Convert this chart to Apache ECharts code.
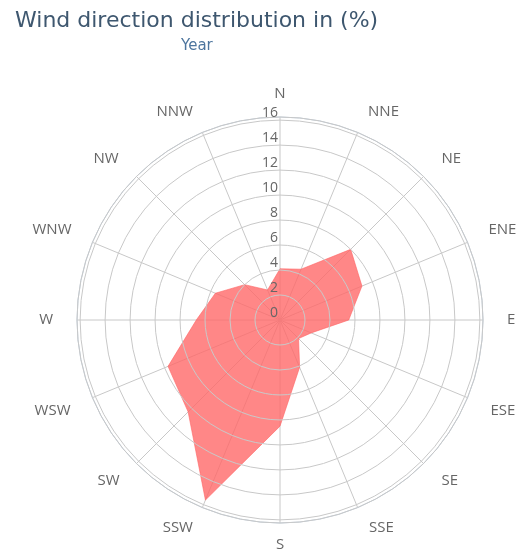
<!DOCTYPE html>
<html>
<head>
<meta charset="utf-8">
<title>Wind direction distribution</title>
<script src="https://cdn.jsdelivr.net/npm/echarts@6/dist/echarts.min.js"></script>
<style>
  html, body { margin: 0; padding: 0; background: #fff; }
  #chart { width: 517px; height: 553px; }
</style>
</head>
<body>
<div id="chart"></div>
<script>
// wind directions, clockwise from north
var directions = ['N', 'NNE', 'NE', 'ENE', 'E', 'ESE', 'SE', 'SSE',
                  'S', 'SSW', 'SW', 'WSW', 'W', 'WNW', 'NW', 'NNW'];
// frequency in % for each direction (year)
var yearValues = [4.1, 4.4, 8.0, 7.1, 5.5, 2.7, 2.1, 4.1,
                  8.5, 15.6, 10.4, 9.7, 6.7, 5.6, 4.0, 2.6];
// radius tick labels
var radiusTicks = [0, 2, 4, 6, 8, 10, 12, 14, 16];

var step = 360 / directions.length;

// polar points [radius, angle], closed back on N
var seriesData = yearValues.map(function (v, i) { return [v, i * step]; });
seriesData.push([yearValues[0], 360]);

// extra spacing around each direction label [top, right, bottom, left]
var labelPad = [
    [0, 0, 2, 0], [0, 0, 0, 5], [0, 0, 0, 8], [0, 0, 0, 8],
    [0, 0, 0, 10], [0, 0, 0, 10], [0, 0, 0, 8], [0, 0, 0, 6],
    [0, 0, 0, 0], [0, 4, 0, 0], [0, 7, 0, 0], [0, 9, 0, 0],
    [0, 10, 0, 0], [0, 8, 0, 0], [0, 8, 0, 0], [0, 4, 0, 0]
];
var dirRich = {};
labelPad.forEach(function (p, i) {
    dirRich['d' + i] = { padding: p, color: '#666', fontSize: 15, fontFamily: 'Open Sans' };
});

var myChart = echarts.init(document.getElementById('chart'));
var option = {
    animation: false,
    textStyle: { fontFamily: 'Open Sans' },
    title: [
        {
            text: 'Wind direction distribution in (%)',
            left: 10,
            top: 5,
            textStyle: { color: '#3e576f', fontSize: 22, fontWeight: 'normal', fontFamily: 'DejaVu Sans' }
        },
        {
            text: 'Year',
            left: 176,
            top: 34,
            textStyle: { color: '#4d759e', fontSize: 15, fontWeight: 'normal', fontFamily: 'DejaVu Sans' }
        }
    ],
    polar: {
        center: [280, 320],
        radius: 203
    },
    angleAxis: {
        type: 'value',
        min: 0,
        max: 360,
        interval: step,
        startAngle: 90,
        clockwise: true,
        axisLine: { show: true, lineStyle: { color: '#c0d0e0', width: 1 } },
        axisTick: { show: false },
        axisLabel: {
            margin: 14,
            color: '#666',
            fontSize: 15,
            rich: dirRich,
            formatter: function (v) {
                var idx = Math.round(v / step);
                return idx < directions.length ? '{d' + idx + '|' + directions[idx] + '}' : '';
            }
        },
        splitLine: { show: true, lineStyle: { color: '#c8c8c8', width: 1 } }
    },
    radiusAxis: {
        type: 'value',
        min: 0,
        max: 16.25,
        interval: 2,
        z: 5,
        axisLine: { show: false },
        axisTick: { show: false },
        axisLabel: {
            margin: 2,
            color: '#666',
            fontSize: 14,
            verticalAlign: 'bottom',
            formatter: function (v) {
                return radiusTicks.indexOf(v) >= 0 ? String(v) : '';
            }
        },
        splitLine: { show: true, lineStyle: { color: '#c8c8c8', width: 1 } }
    },
    series: [
        {
            name: 'Year',
            type: 'line',
            coordinateSystem: 'polar',
            data: seriesData,
            symbol: 'none',
            lineStyle: { color: 'rgba(255, 100, 100, 0.6)', width: 1 },
            areaStyle: { color: 'rgba(255, 105, 105, 0.8)', opacity: 1 },
            z: 2
        }
    ]
};
myChart.setOption(option);
</script>
</body>
</html>
